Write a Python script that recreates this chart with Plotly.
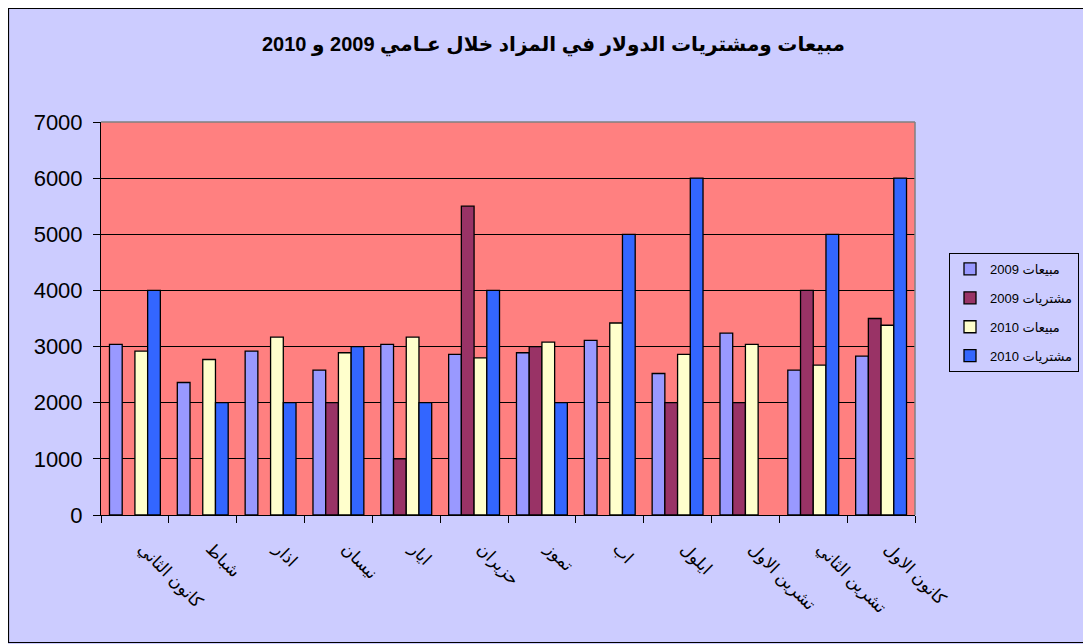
import plotly.graph_objects as go

months = ["كانون الثاني", "شباط", "اذار", "نيسان", "ايار", "حزيران",
          "تموز", "اب", "ايلول", "تشرين الاول", "تشرين الثاني", "كانون الاول"]
series_names = ["مبيعات 2009", "مشتريات 2009", "مبيعات 2010", "مشتريات 2010"]
sales_2009 = [3040, 2360, 2920, 2580, 3040, 2860, 2890, 3110, 2520, 3240, 2580, 2830]
purchases_2009 = [None, None, None, 2000, 1000, 5500, 3000, None, 2000, 2000, 4000, 3500]
sales_2010 = [2920, 2770, 3170, 2890, 3170, 2800, 3080, 3420, 2860, 3040, 2670, 3380]
purchases_2010 = [4000, 2000, 2000, 3000, 2000, 4000, 2000, 5000, 6000, None, 5000, 6000]
colors = ["#9999FF", "#993366", "#FFFFCC", "#3366FF"]
title_text = "مبيعات ومشتريات الدولار في المزاد خلال عـامي 2009 و 2010"

# page offset (browser body margin)
O = 8
W, H = 1091 - O, 644 - O
L, R, T, B = 101 - O, 915 - O, 122 - O, 515 - O
FONT = "Liberation Sans, Arial, DejaVu Sans, sans-serif"

fig = go.Figure()
for i, (name, vals) in enumerate(zip(series_names,
                                     [sales_2009, purchases_2009, sales_2010, purchases_2010])):
    fig.add_trace(go.Bar(
        x=months, y=vals, name=name, legendgroup=str(i),
        marker=dict(color=colors[i], line=dict(color="black", width=1.3)),
    ))

def px_x(p):
    return (p - O - L) / (R - L)

def px_y(p):
    return (B - (p - O)) / (B - T)

shapes = [
    # outer border
    dict(type="rect", xref="paper", yref="paper", x0=px_x(8.5), x1=px_x(1100), y0=px_y(642.5), y1=px_y(8.5),
         line=dict(color="black", width=1.2), layer="above"),
    # plot frame top/right grey
    dict(type="line", xref="paper", yref="paper", x0=0, x1=1, y0=1, y1=1,
         line=dict(color="#808080", width=1.5)),
    dict(type="line", xref="paper", yref="paper", x0=1, x1=1, y0=0, y1=1,
         line=dict(color="#808080", width=1.5)),
]

fig.update_layout(
    width=W, height=H,
    margin=dict(l=L, r=W - R, t=T, b=H - B, pad=0, autoexpand=False),
    paper_bgcolor="#CCCCFF",
    plot_bgcolor="#FF8080",
    barmode="group", bargap=0.25, bargroupgap=0,
    font=dict(family=FONT, color="black"),
    annotations=[dict(text=title_text, xref="paper", yref="paper",
                      x=px_x(553), y=px_y(45), xanchor="center", yanchor="middle",
                      showarrow=False,
                      font=dict(size=20, family=FONT, color="black", weight="bold"))],
    legend=dict(x=px_x(949), xanchor="left", y=px_y(253), yanchor="top",
                bgcolor="#CCCCFF", bordercolor="black", borderwidth=1,
                font=dict(size=13, family=FONT, color="black"),
                tracegroupgap=9, itemwidth=30),
    shapes=shapes,
    showlegend=True,
)
fig.update_xaxes(
    type="category", tickson="boundaries", ticks="outside", ticklen=7, tickcolor="black",
    tickwidth=1, showline=True, linecolor="black", linewidth=1, showgrid=False,
    tickangle=45, tickfont=dict(size=17, family=FONT, color="black"),
    ticklabelstandoff=16, ticklabelshift=8,
)
fig.update_yaxes(
    range=[0, 7000], dtick=1000, ticks="outside", ticklen=7, tickcolor="black", tickwidth=1,
    showline=True, linecolor="black", linewidth=1, showgrid=True, gridcolor="black",
    gridwidth=1, zeroline=False, tickfont=dict(size=22, family=FONT, color="black"),
    ticklabelstandoff=6,
)

fig.write_html("out.html")
